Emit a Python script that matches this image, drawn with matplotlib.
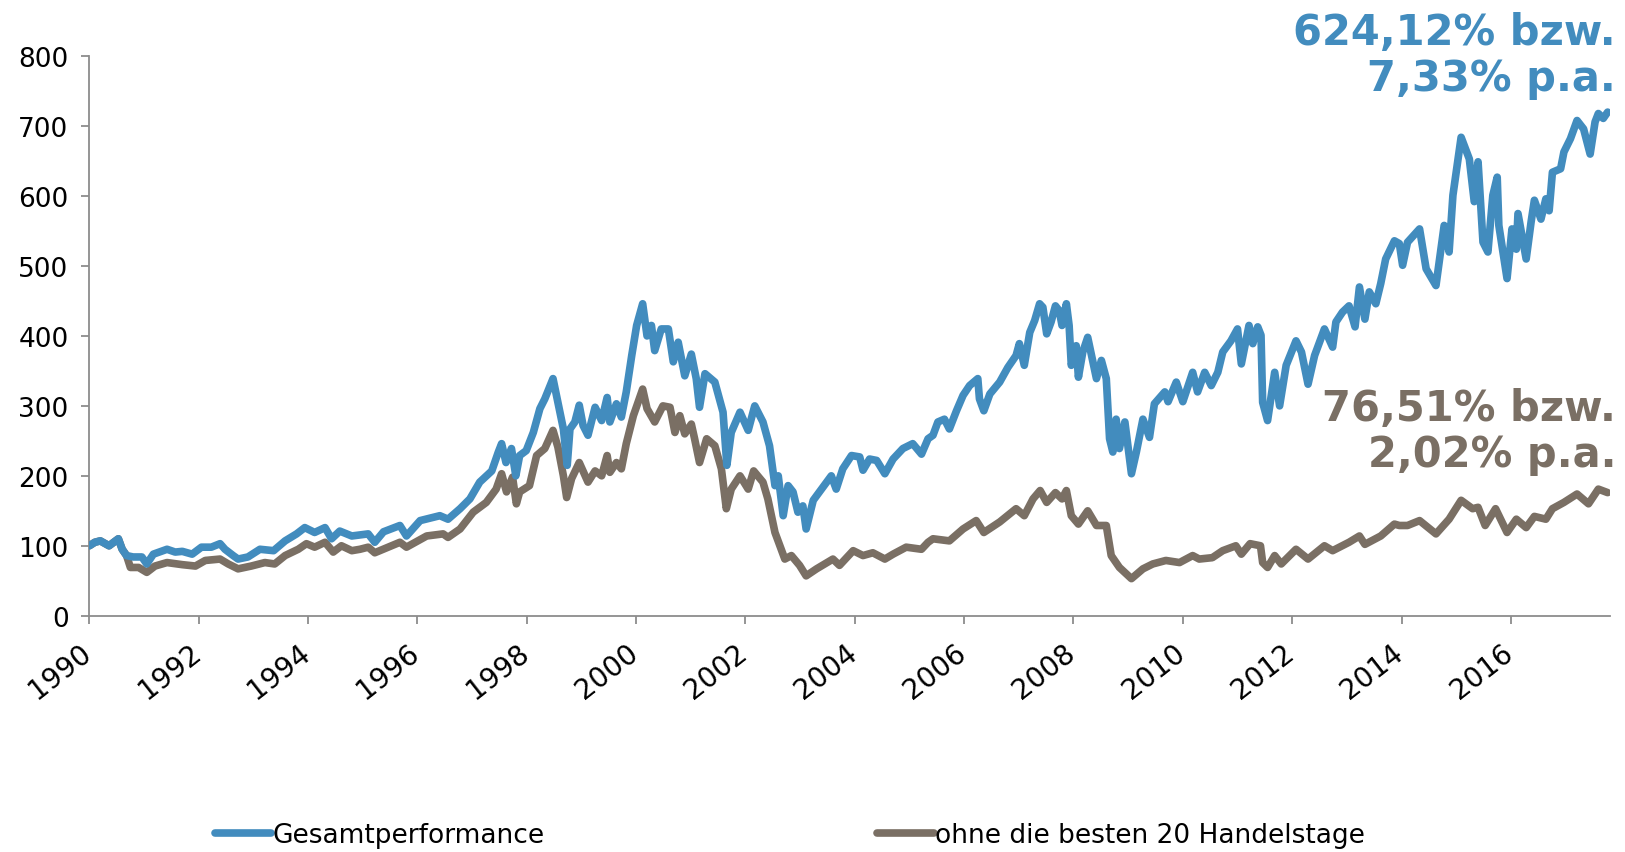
import matplotlib
matplotlib.use("Agg")
import matplotlib.pyplot as plt
from matplotlib.lines import Line2D
from matplotlib.transforms import ScaledTranslation

gesamt_t = [1990.0, 1990.1, 1990.2, 1990.36, 1990.53, 1990.6, 1990.68, 1990.8, 1990.96, 1991.05,
            1991.17, 1991.42, 1991.57, 1991.7, 1991.88, 1992.05, 1992.23, 1992.39, 1992.48, 1992.63,
            1992.72, 1992.9, 1993.12, 1993.37, 1993.58, 1993.79, 1993.94, 1994.12, 1994.31, 1994.43,
            1994.58, 1994.8, 1995.1, 1995.22, 1995.38, 1995.68, 1995.8, 1996.05, 1996.41, 1996.56,
            1996.78, 1996.96, 1997.14, 1997.36, 1997.48, 1997.54, 1997.62, 1997.72, 1997.8, 1997.87,
            1997.99, 1998.12, 1998.24, 1998.33, 1998.48, 1998.57, 1998.67, 1998.74, 1998.79, 1998.88,
            1998.96, 1999.03, 1999.12, 1999.25, 1999.37, 1999.47, 1999.52, 1999.64, 1999.73, 1999.82,
            1999.92, 2000.01, 2000.12, 2000.2, 2000.28, 2000.34, 2000.46, 2000.59, 2000.68, 2000.77,
            2000.89, 2001.01, 2001.1, 2001.16, 2001.26, 2001.44, 2001.59, 2001.66, 2001.74, 2001.9,
            2002.05, 2002.17, 2002.32, 2002.44, 2002.54, 2002.6, 2002.69, 2002.78, 2002.87, 2002.96,
            2003.05, 2003.11, 2003.24, 2003.39, 2003.57, 2003.66, 2003.78, 2003.94, 2004.09, 2004.15,
            2004.27, 2004.4, 2004.55, 2004.7, 2004.88, 2005.06, 2005.22, 2005.34, 2005.43, 2005.52,
            2005.64, 2005.73, 2005.86, 2005.98, 2006.1, 2006.25, 2006.28, 2006.36, 2006.47, 2006.65,
            2006.8, 2006.95, 2007.01, 2007.1, 2007.2, 2007.29, 2007.38, 2007.44, 2007.51, 2007.59,
            2007.67, 2007.74, 2007.79, 2007.87, 2007.92, 2007.96, 2008.05, 2008.09, 2008.17, 2008.26,
            2008.42, 2008.51, 2008.6, 2008.66, 2008.72, 2008.78, 2008.84, 2008.94, 2009.06, 2009.15,
            2009.27, 2009.39, 2009.48, 2009.67, 2009.73, 2009.88, 2010.0, 2010.18, 2010.27, 2010.4,
            2010.52, 2010.64, 2010.73, 2010.88, 2011.0, 2011.07, 2011.21, 2011.28, 2011.37, 2011.43,
            2011.46, 2011.55, 2011.68, 2011.77, 2011.89, 2012.07, 2012.17, 2012.29, 2012.41, 2012.59,
            2012.74, 2012.8, 2012.92, 2013.04, 2013.15, 2013.23, 2013.33, 2013.41, 2013.53, 2013.62,
            2013.71, 2013.87, 2013.96, 2014.02, 2014.11, 2014.33, 2014.45, 2014.63, 2014.78, 2014.87,
            2014.94, 2015.09, 2015.24, 2015.33, 2015.4, 2015.49, 2015.58, 2015.67, 2015.75, 2015.78,
            2015.93, 2016.02, 2016.1, 2016.13, 2016.28, 2016.37, 2016.43, 2016.55, 2016.64, 2016.7,
            2016.76, 2016.91, 2016.97, 2017.09, 2017.21, 2017.33, 2017.45, 2017.54, 2017.6, 2017.69,
            2017.77]
gesamt_v = [100, 105, 107, 100, 110, 95, 86, 84, 84, 74,
            88, 95, 91, 92, 88, 98, 98, 103, 95, 86,
            81, 84, 95, 93, 107, 117, 126, 119, 126, 110,
            121, 114, 117, 105, 120, 129, 114, 136, 143, 138,
            153, 167, 191, 207, 234, 246, 219, 239, 200, 229,
            236, 262, 296, 310, 339, 305, 267, 215, 267, 277,
            301, 272, 258, 298, 279, 312, 277, 303, 284, 320,
            372, 415, 446, 400, 415, 379, 410, 410, 363, 391,
            343, 374, 339, 298, 346, 334, 291, 215, 262, 291,
            265, 300, 277, 243, 186, 200, 143, 186, 177, 148,
            157, 124, 165, 181, 200, 181, 210, 229, 227, 208,
            224, 222, 203, 224, 239, 246, 231, 253, 258, 277,
            281, 267, 293, 315, 329, 339, 310, 293, 317, 334,
            355, 372, 389, 358, 405, 422, 446, 441, 403, 420,
            443, 436, 415, 446, 415, 358, 386, 341, 377, 398,
            339, 365, 339, 253, 234, 281, 239, 277, 203, 234,
            281, 255, 303, 320, 306, 334, 306, 348, 320, 348,
            329, 348, 377, 393, 410, 360, 415, 389, 413, 401,
            305, 279, 348, 300, 358, 393, 377, 331, 372, 410,
            384, 420, 434, 443, 413, 470, 424, 463, 446, 475,
            510, 536, 532, 501, 534, 553, 496, 472, 558, 520,
            601, 684, 653, 592, 649, 534, 520, 601, 627, 558,
            482, 553, 524, 575, 510, 563, 594, 567, 596, 579,
            634, 639, 663, 682, 708, 696, 660, 706, 718, 711,
            720]

ohne_t = [1990.0, 1990.1, 1990.2, 1990.36, 1990.53, 1990.6, 1990.68, 1990.75, 1990.9, 1991.05,
          1991.2, 1991.42, 1991.7, 1991.94, 1992.12, 1992.39, 1992.54, 1992.72, 1992.96, 1993.21,
          1993.39, 1993.58, 1993.82, 1993.97, 1994.12, 1994.31, 1994.46, 1994.61, 1994.8, 1994.95,
          1995.1, 1995.22, 1995.68, 1995.8, 1996.17, 1996.47, 1996.56, 1996.78, 1997.02, 1997.26,
          1997.44, 1997.54, 1997.63, 1997.74, 1997.81, 1997.87, 1998.05, 1998.18, 1998.33, 1998.48,
          1998.57, 1998.67, 1998.73, 1998.82, 1998.96, 1999.12, 1999.25, 1999.37, 1999.47, 1999.52,
          1999.64, 1999.73, 1999.82, 1999.95, 2000.12, 2000.2, 2000.34, 2000.49, 2000.62, 2000.71,
          2000.8, 2000.89, 2001.01, 2001.07, 2001.16, 2001.29, 2001.44, 2001.56, 2001.65, 2001.74,
          2001.9, 2002.05, 2002.15, 2002.32, 2002.41, 2002.54, 2002.63, 2002.72, 2002.84, 2002.99,
          2003.11, 2003.3, 2003.6, 2003.72, 2003.97, 2004.15, 2004.33, 2004.55, 2004.7, 2004.94,
          2005.22, 2005.34, 2005.43, 2005.73, 2005.98, 2006.22, 2006.36, 2006.65, 2006.95, 2007.1,
          2007.26, 2007.39, 2007.51, 2007.67, 2007.79, 2007.87, 2007.96, 2008.09, 2008.26, 2008.42,
          2008.6, 2008.69, 2008.84, 2009.06, 2009.27, 2009.45, 2009.69, 2009.94, 2010.18, 2010.3,
          2010.54, 2010.73, 2010.97, 2011.07, 2011.23, 2011.42, 2011.46, 2011.55, 2011.68, 2011.8,
          2012.07, 2012.29, 2012.59, 2012.74, 2013.04, 2013.23, 2013.33, 2013.62, 2013.87, 2013.96,
          2014.11, 2014.33, 2014.63, 2014.87, 2015.09, 2015.3, 2015.4, 2015.53, 2015.72, 2015.93,
          2016.1, 2016.28, 2016.43, 2016.64, 2016.76, 2016.97, 2017.21, 2017.42, 2017.6, 2017.77]
ohne_v = [100, 105, 107, 100, 110, 95, 86, 69, 69, 62,
          71, 76, 73, 71, 79, 81, 74, 67, 71, 76,
          74, 86, 95, 103, 98, 105, 91, 100, 93, 95,
          98, 90, 105, 98, 114, 117, 112, 124, 148, 162,
          181, 203, 177, 198, 160, 177, 186, 229, 239, 265,
          241, 200, 169, 196, 219, 191, 207, 200, 229, 205,
          219, 210, 246, 286, 324, 296, 277, 300, 298, 262,
          286, 260, 274, 253, 219, 253, 243, 210, 153, 181,
          200, 181, 207, 191, 167, 119, 100, 81, 86, 72,
          57, 67, 81, 72, 93, 86, 90, 81, 88, 98,
          95, 105, 110, 107, 124, 136, 119, 134, 153, 143,
          167, 179, 162, 176, 167, 179, 143, 131, 150, 129,
          129, 86, 69, 53, 67, 74, 79, 76, 86, 81,
          83, 93, 100, 88, 103, 100, 76, 69, 86, 74,
          95, 81, 100, 93, 105, 114, 102, 114, 131, 129,
          129, 136, 117, 138, 165, 153, 155, 129, 153, 119,
          138, 126, 142, 138, 153, 162, 174, 160, 181, 176]

jahre = list(range(1990, 2018, 2))
labels = ["Gesamtperformance", "ohne die besten 20 Handelstage"]
texte = ["624,12% bzw.\n7,33% p.a.", "76,51% bzw.\n2,02% p.a."]

blau = "#428CBE"
braun = "#7A6F64"
grau = "#8C8C8C"

fig = plt.figure(figsize=(16.25, 8.53), dpi=100)
ax = fig.add_axes([0.055, 0.277, 0.936, 0.656])

ax.plot(gesamt_t, gesamt_v, color=blau, lw=5.5, solid_joinstyle="round", solid_capstyle="round", zorder=3)
ax.plot(ohne_t, ohne_v, color=braun, lw=5.5, solid_joinstyle="round", solid_capstyle="round", zorder=2)

ax.set_xlim(1990, 2017.82)
ax.set_ylim(0, 800)
ax.set_yticks(range(0, 801, 100))
ax.set_xticks(jahre)
ax.set_xticklabels([str(j) for j in jahre], rotation=38, ha="right", va="top", rotation_mode="anchor")

for s in ["top", "right"]:
    ax.spines[s].set_visible(False)
for s in ["left", "bottom"]:
    ax.spines[s].set_color(grau)
    ax.spines[s].set_linewidth(1.3)
ax.tick_params(axis="both", direction="out", length=6, width=1.3, color=grau, labelcolor="black")
ax.tick_params(axis="y", labelsize=19, pad=9)
ax.tick_params(axis="x", labelsize=20, pad=8)

# Jahreszahlen etwas nach links schieben, damit das Ende unter dem Tick sitzt
shift = ScaledTranslation(-0.10, -0.03, fig.dpi_scale_trans)
for lab in ax.get_xticklabels():
    lab.set_transform(lab.get_transform() + shift)

fig.text(0.9945, 0.9855, texte[0], color=blau, fontsize=30, fontweight="bold", ha="right", va="top", linespacing=1.12)
fig.text(0.9945, 0.545, texte[1], color=braun, fontsize=30, fontweight="bold", ha="right", va="top", linespacing=1.12)

handles = [Line2D([], [], color=blau, lw=5.5, solid_capstyle="round"),
           Line2D([], [], color=braun, lw=5.5, solid_capstyle="round")]
fig.legend(handles, labels, loc="center left", bbox_to_anchor=(0.1174, 0.02), ncol=2, frameon=False,
           fontsize=19, handlelength=2.15, handletextpad=0.05, columnspacing=12.6)

fig.savefig("out.png", dpi=100)
